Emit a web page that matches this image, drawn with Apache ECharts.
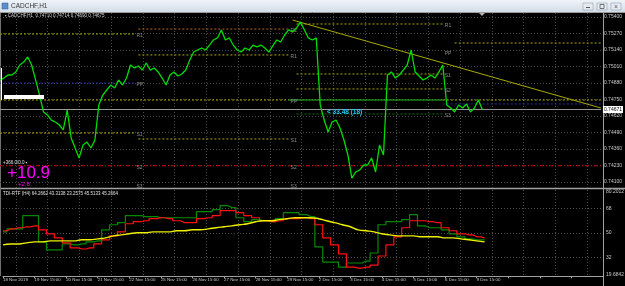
<!DOCTYPE html>
<html>
<head>
<meta charset="utf-8">
<script src="https://cdn.jsdelivr.net/npm/echarts@6/dist/echarts.min.js"></script>
<style>
html, body { margin: 0; padding: 0; background: #000; }
#main { width: 625px; height: 286px; }
</style>
</head>
<body>
<div id="main"></div>
<script>
// time axis labels, one per day (every 24 bars)
const dayLabels = ['18 Nov 2019', '19 Nov 15:00', '20 Nov 15:00', '21 Nov 15:00', '22 Nov 15:00',
    '25 Nov 15:00', '26 Nov 15:00', '27 Nov 15:00', '28 Nov 15:00', '29 Nov 15:00',
    '2 Dec 15:00', '3 Dec 15:00', '4 Dec 15:00', '5 Dec 15:00', '6 Dec 15:00', '9 Dec 15:00'];

// CADCHF H1 close, sampled every 3 bars
const closes = [0.74904, 0.74919, 0.74943, 0.74943, 0.74967, 0.75022, 0.75045, 0.75085, 0.75022, 0.74904,
    0.74785, 0.74652, 0.74628, 0.74588, 0.74573, 0.74549, 0.74510, 0.74667, 0.74447, 0.74368,
    0.74289, 0.74391, 0.74415, 0.74368, 0.74431, 0.74707, 0.74785, 0.74825, 0.74864, 0.74841,
    0.74904, 0.74864, 0.74919, 0.75022, 0.74998, 0.75014, 0.74982, 0.75038, 0.74982, 0.74998,
    0.74967, 0.74919, 0.74864, 0.74943, 0.74967, 0.74935, 0.74951, 0.74982, 0.75061, 0.75124,
    0.75140, 0.75156, 0.75140, 0.75179, 0.75219, 0.75235, 0.75298, 0.75219, 0.75235, 0.75179,
    0.75140, 0.75124, 0.75156, 0.75140, 0.75179, 0.75164, 0.75179, 0.75156, 0.75124, 0.75172,
    0.75219, 0.75203, 0.75258, 0.75298, 0.75282, 0.75313, 0.75361, 0.75298, 0.75235, 0.75219,
    0.75235, 0.74707, 0.74588, 0.74494, 0.74573, 0.74588, 0.74525, 0.74431, 0.74313, 0.74131,
    0.74179, 0.74195, 0.74234, 0.74234, 0.74289, 0.74179, 0.74391, 0.74313, 0.74943, 0.74967,
    0.74919, 0.74943, 0.74982, 0.75022, 0.75140, 0.74967, 0.74935, 0.74904, 0.74919, 0.74943,
    0.74919, 0.74967, 0.75022, 0.74707, 0.74683, 0.74652, 0.74707, 0.74683, 0.74715, 0.74652,
    0.74683, 0.74746, 0.74671];

const priceMin = 0.741, priceMax = 0.754, priceStep = 0.0013;
const bidPrice = 0.74671;
const redLevel = 0.74228;
const lastBar = 152;

// trend line (bar index, price)
const trendIdx = [74, 152];
const trendPrice = [0.75376, 0.74683];

// weekly pivots
const pivName  = ['R1', 'PP', 'S1', 'S2', 'S3', 'R2', 'R1', 'PP', 'S1', 'S2', 'S3', 'R1', 'PP', 'S1', 'S2', '', 'S3', '', '', ''];
const pivStart = [0, 0, 0, 0, 0, 35, 35, 0, 35, 35, 35, 75, 75, 75, 75, 73, 75, 115, 112, 112];
const pivEnd   = [34, 34, 34, 34, 34, 73, 73, 73, 73, 73, 73, 112, 112, 112, 112, 112, 112, 152, 152, 152];
const pivPrice = [0.75266, 0.74880, 0.74486, 0.74228, 0.74076, 0.75305, 0.75101, 0.74746, 0.74439, 0.74228,
    0.74076, 0.75345, 0.75124, 0.74951, 0.74833, 0.74746, 0.74636, 0.75195, 0.74746, 0.74715];
const pivColor = ['#a8a800', '#2a2aa0', '#a8a800', 'transparent', '#1e9b1e', '#b46414', '#a8a800', '#a8a800', '#a8a800', 'transparent',
    '#1e9b1e', '#a8a800', 'transparent', '#a8a800', '#a8a800', '#20c020', '#146e14', '#a8a800', '#a8a800', '#2a2aa0'];

// TDI indicator, sampled every 6 bars
const tdiGreen = [50.7, 52.9, 52.9, 62.5, 62.5, 43.4, 37.5, 37.5, 41.9, 41.2, 41.9, 43.4, 44.1, 52.2, 55.9, 57.4,
    62.5, 62.5, 61.8, 61.8, 61.0, 61.0, 61.0, 61.0, 61.0, 65.4, 65.4, 66.9, 69.8, 68.4, 61.0, 58.1,
    59.6, 58.8, 58.1, 60.3, 64.7, 64.7, 63.2, 61.8, 39.7, 28.7, 28.7, 25.0, 28.0, 28.0, 29.4, 35.3,
    55.9, 58.1, 58.1, 59.6, 63.2, 55.1, 53.7, 53.7, 52.2, 49.3, 47.1, 45.6, 44.9, 44.9];
const tdiRed = [51.5, 52.9, 53.7, 54.4, 55.1, 52.2, 49.3, 46.3, 42.7, 39.0, 38.2, 39.0, 41.9, 44.9, 47.8, 50.7,
    56.6, 58.1, 58.8, 60.3, 61.0, 60.3, 58.8, 57.4, 57.4, 60.3, 61.0, 62.5, 66.2, 66.2, 64.7, 62.5,
    61.0, 58.8, 58.1, 58.8, 60.3, 60.3, 61.0, 60.3, 55.9, 46.3, 41.2, 34.6, 25.0, 24.3, 25.0, 26.5,
    33.1, 41.2, 47.1, 53.7, 58.8, 58.8, 58.1, 57.4, 53.7, 51.5, 49.3, 48.5, 47.1, 46.3];
const tdiYellow = [41.2, 41.9, 41.9, 42.7, 43.4, 43.4, 44.1, 44.1, 44.1, 44.1, 44.9, 44.9, 45.6, 46.3, 47.8, 48.5,
    49.3, 50.0, 50.0, 50.7, 50.7, 50.7, 51.5, 51.5, 52.2, 52.2, 52.9, 53.7, 54.4, 55.1, 55.9, 56.6,
    58.1, 58.8, 58.8, 59.6, 60.3, 61.0, 61.0, 61.0, 60.3, 58.8, 57.4, 55.9, 54.4, 52.2, 51.5, 50.7,
    49.3, 48.5, 47.8, 47.8, 47.8, 47.1, 47.1, 47.1, 46.3, 46.3, 45.6, 44.9, 44.1, 43.4];
const indMin = 19.6842, indMax = 80.2012;
const indLevels = [68, 50, 32];

const mainCats = Array.from({length: 153}, (_, i) => String(i));
const indCats = Array.from({length: 77}, (_, j) => String(j));

const FONT = 'Liberation Sans';
const axisTxt = '#c8c8c8';

let pivotSeries = pivName.map((n, i) => ({
    type: 'line',
    xAxisIndex: 0, yAxisIndex: 0,
    data: [[pivStart[i], pivPrice[i]], [pivEnd[i], pivPrice[i]]],
    showSymbol: false, silent: true,
    lineStyle: {color: pivColor[i], width: 1, type: i === 15 ? 'solid' : [2, 2]},
    endLabel: {show: n !== '', formatter: n, color: '#8c8c8c', fontSize: 5, fontFamily: FONT, distance: 2, offset: [0, 2]},
    z: 2
}));

// indicator scale labels: levels plus window min/max (min nudged inside the extent)
let levelMarks = indLevels.map(v => ({yAxis: v, label: {formatter: String(v)}}));
levelMarks.push(
    {yAxis: indMax - 0.05, lineStyle: {color: 'transparent'}, label: {formatter: indMax.toFixed(4)}},
    {yAxis: indMin + 0.05, lineStyle: {color: 'transparent'}, label: {formatter: indMin.toFixed(4)}}
);

let option = {
    animation: false,
    backgroundColor: '#000',
    grid: [
        {left: 0, right: 22, top: 17, height: 165},
        {left: 0, right: 22, top: 191.4, height: 83},
        {left: 0, right: 22, top: 13, height: 263}
    ],
    xAxis: [
        {gridIndex: 0, type: 'category', data: mainCats, boundaryGap: false,
            axisLine: {show: false}, axisTick: {show: false}, axisLabel: {show: false}, splitLine: {show: false}},
        {gridIndex: 1, type: 'category', data: indCats, boundaryGap: false, offset: 2,
            axisLine: {lineStyle: {color: '#a0a0a0'}},
            axisTick: {show: true, length: 2, interval: (j) => j % 4 === 0, lineStyle: {color: '#a0a0a0'}},
            axisLabel: {interval: (j) => j % 4 === 0, formatter: (v, j) => dayLabels[j / 4] || '',
                align: 'left', fontSize: 4.4, fontFamily: FONT, color: axisTxt, margin: 1},
            splitLine: {show: false}},
        {gridIndex: 2, type: 'category', data: indCats, boundaryGap: false,
            axisLine: {show: false}, axisTick: {show: false}, axisLabel: {show: false},
            splitLine: {show: true, interval: (j) => j % 4 === 2, lineStyle: {color: '#4c4c4c', type: [1, 2]}}}
    ],
    yAxis: [
        {gridIndex: 0, type: 'value', position: 'right', min: priceMin, max: priceMax, interval: priceStep,
            axisLine: {show: false}, axisTick: {show: false},
            axisLabel: {formatter: (v) => v.toFixed(5), fontSize: 5, fontFamily: FONT, color: axisTxt, margin: 3},
            splitLine: {lineStyle: {color: '#4c4c4c', type: [1, 2]}}},
        {gridIndex: 1, type: 'value', min: indMin, max: indMax, show: false, splitLine: {show: false}},
        {gridIndex: 2, type: 'value', show: false}
    ],
    series: [
        ...pivotSeries,
        {
            name: 'red level', type: 'line', xAxisIndex: 0, yAxisIndex: 0,
            data: [[0, redLevel], [lastBar, redLevel]], showSymbol: false, silent: true,
            lineStyle: {color: '#c80000', type: [4, 2, 1, 2], width: 1}, z: 2
        },
        {
            name: 'bid', type: 'line', xAxisIndex: 0, yAxisIndex: 0,
            data: [[0, bidPrice], [lastBar, bidPrice]], showSymbol: false, silent: true,
            lineStyle: {color: '#9a9a9a', width: 1}, z: 3,
            endLabel: {show: true, formatter: bidPrice.toFixed(5), backgroundColor: '#fff', color: '#000',
                fontSize: 5, fontFamily: FONT, padding: [1, 1], distance: 2}
        },
        {
            name: 'trend', type: 'line', xAxisIndex: 0, yAxisIndex: 0,
            data: trendIdx.map((x, i) => [x, trendPrice[i]]),
            showSymbol: false, silent: true,
            lineStyle: {color: '#a8a800', width: 1}, z: 3
        },
        {
            name: 'CADCHF', type: 'line', xAxisIndex: 0, yAxisIndex: 0,
            data: closes, showSymbol: false,
            lineStyle: {color: '#00dc00', width: 1.3}, z: 5
        },
        {
            name: 'TDI green', type: 'line', xAxisIndex: 1, yAxisIndex: 1,
            data: tdiGreen, step: 'middle', showSymbol: false,
            lineStyle: {color: '#008a00', width: 1.2}, z: 4
        },
        {
            name: 'TDI red', type: 'line', xAxisIndex: 1, yAxisIndex: 1,
            data: tdiRed, step: 'middle', showSymbol: false,
            lineStyle: {color: '#ff1010', width: 1.2}, z: 5
        },
        {
            name: 'TDI yellow', type: 'line', xAxisIndex: 1, yAxisIndex: 1,
            data: tdiYellow, showSymbol: false, smooth: true,
            lineStyle: {color: '#f0f000', width: 1.4}, z: 6,
            markLine: {
                symbol: 'none', silent: true,
                lineStyle: {color: '#4c4c4c', type: [1, 2], width: 1},
                label: {position: 'end', distance: 3, fontSize: 5, fontFamily: FONT, color: axisTxt},
                data: levelMarks
            }
        }
    ],
    graphic: {elements: [
        // window title bar
        {type: 'rect', shape: {x: 0, y: 0, width: 625, height: 12},
            style: {fill: new echarts.graphic.LinearGradient(0, 0, 0, 1, [{offset: 0, color: '#eef3f8'}, {offset: 1, color: '#d3dde8'}])}},
        {type: 'rect', shape: {x: 2, y: 3, width: 6, height: 6}, style: {fill: '#5b8fd0', stroke: '#2e5e9e', lineWidth: 0.5}},
        {type: 'text', x: 11, y: 6.5, style: {text: 'CADCHF,H1', fontSize: 6.5, fontFamily: FONT, fill: '#3a3a3a', verticalAlign: 'middle'}},
        {type: 'rect', shape: {x: 583, y: 3, width: 10, height: 7}, style: {fill: '#e4eaf1', stroke: '#93a2b3', lineWidth: 0.6}},
        {type: 'rect', shape: {x: 597, y: 3, width: 10, height: 7}, style: {fill: '#e4eaf1', stroke: '#93a2b3', lineWidth: 0.6}},
        {type: 'rect', shape: {x: 611, y: 3, width: 10, height: 7}, style: {fill: '#e4eaf1', stroke: '#93a2b3', lineWidth: 0.6}},
        {type: 'line', shape: {x1: 586, y1: 7.5, x2: 590, y2: 7.5}, style: {stroke: '#555', lineWidth: 1}},
        {type: 'rect', shape: {x: 600, y: 4.5, width: 4, height: 4}, style: {fill: 'none', stroke: '#555', lineWidth: 0.8}},
        {type: 'text', x: 616, y: 6.8, style: {text: '×', fontSize: 7, fontFamily: FONT, fill: '#555', align: 'center', verticalAlign: 'middle'}},
        // frame
        {type: 'line', shape: {x1: 0, y1: 12.5, x2: 625, y2: 12.5}, style: {stroke: '#9a9a9a', lineWidth: 1}},
        {type: 'line', shape: {x1: 603.5, y1: 13, x2: 603.5, y2: 286}, style: {stroke: '#a0a0a0', lineWidth: 1}},
        {type: 'line', shape: {x1: 0, y1: 188.5, x2: 625, y2: 188.5}, style: {stroke: '#a0a0a0', lineWidth: 1.5}},
        {type: 'line', shape: {x1: 0.5, y1: 13, x2: 0.5, y2: 276}, style: {stroke: '#707070', lineWidth: 1}},
        // chart texts and objects
        {type: 'text', x: 5, y: 16, style: {text: '\u25aa CADCHF,H1  0.74710 0.74714 0.74690 0.74675', fontSize: 4.5, fontFamily: FONT, fill: '#d8d8d8', verticalAlign: 'middle'}},
        {type: 'rect', shape: {x: 4, y: 95, width: 40, height: 4}, style: {fill: '#ffffff'}, z: 10},
        {type: 'line', shape: {x1: 1.5, y1: 68, x2: 1.5, y2: 100}, style: {stroke: '#ffffff', lineWidth: 1}, z: 10},
        {type: 'text', x: 327, y: 112, style: {text: '< 33.48 (18)', fontSize: 6.5, fontWeight: 'bold', fontFamily: FONT, fill: '#1ec8ff', verticalAlign: 'middle'}, z: 10},
        {type: 'text', x: 3, y: 163, style: {text: '+366.0/0.0 \u25aa', fontSize: 4.5, fontFamily: FONT, fill: '#e0e0e0', verticalAlign: 'middle'}, z: 10},
        {type: 'text', x: 7, y: 173, style: {text: '+10.9', fontSize: 17, fontFamily: FONT, fill: '#ff00ff', verticalAlign: 'middle'}, z: 10},
        {type: 'text', x: 18, y: 184.5, style: {text: '+2.8', fontSize: 6, fontFamily: FONT, fill: '#ff00ff', verticalAlign: 'middle'}, z: 10},
        {type: 'text', x: 3, y: 193.5, style: {text: 'TDI-RTF (H4) 64.2662 43.3138 23.2575 45.5133 45.2664', fontSize: 4.5, fontFamily: FONT, fill: '#e0e0e0', verticalAlign: 'middle'}, z: 10},
        {type: 'polygon', shape: {points: [[479, 13], [485, 13], [482, 16]]}, style: {fill: '#b0b0b0'}}
    ]}
};

let myChart = echarts.init(document.getElementById('main'));
myChart.setOption(option);
</script>
</body>
</html>
